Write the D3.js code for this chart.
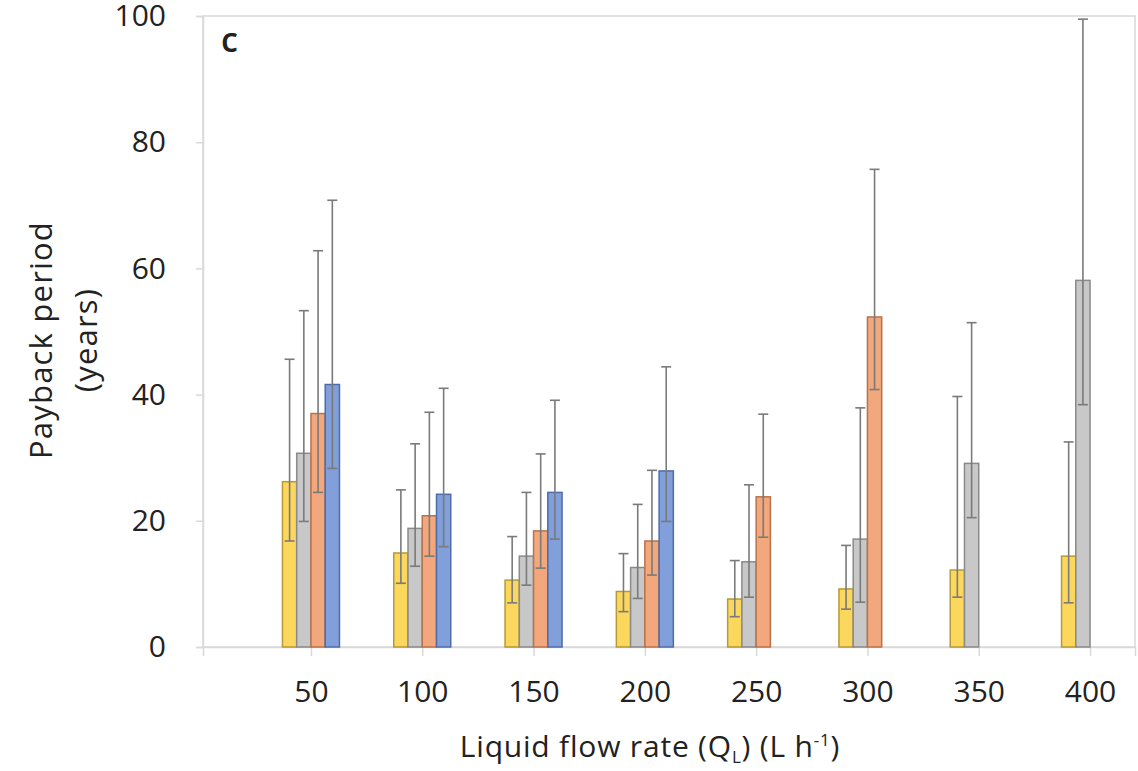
<!DOCTYPE html>
<html>
<head>
<meta charset="utf-8">
<script src="https://cdn.jsdelivr.net/npm/d3@7"></script>
<style>
  html, body { margin: 0; padding: 0; background: #fff; }
  svg { display: block; font-family: "Open Sans", sans-serif; }
</style>
</head>
<body>
<svg id="chart" width="1138" height="771"></svg>
<script>
// flow rate categories (L h-1)
const flowRates = [50, 100, 150, 200, 250, 300, 350, 400];
const yTicks = [0, 20, 40, 60, 80, 100];

// payback period (years): bar value, upper and lower error-bar ends
const yellowMean = [26.2, 14.9, 10.6, 8.8, 7.6, 9.2, 12.2, 14.4];
const yellowHigh = [45.6, 24.9, 17.5, 14.8, 13.7, 16.1, 39.7, 32.5];
const yellowLow  = [16.8, 10.1, 7.0, 5.6, 4.8, 6.0, 7.9, 7.0];

const greyMean = [30.7, 18.8, 14.4, 12.6, 13.5, 17.1, 29.1, 58.1];
const greyHigh = [53.3, 32.2, 24.5, 22.6, 25.7, 37.9, 51.4, 99.5];
const greyLow  = [19.9, 12.8, 9.8, 7.7, 7.9, 7.1, 20.5, 38.4];

const orangeMean = [37.0, 20.8, 18.4, 16.8, 23.8, 52.3, null, null];
const orangeHigh = [62.8, 37.2, 30.6, 28.0, 36.9, 75.7, null, null];
const orangeLow  = [24.5, 14.4, 12.5, 11.4, 17.4, 40.8, null, null];

const blueMean = [41.6, 24.2, 24.5, 27.9, null, null, null, null];
const blueHigh = [70.8, 41.0, 39.1, 44.4, null, null, null, null];
const blueLow  = [28.3, 15.9, 17.1, 19.9, null, null, null, null];

const series = [
  { name: 'yellow', mean: yellowMean, high: yellowHigh, low: yellowLow, fill: '#FBD75E', stroke: '#B59A35' },
  { name: 'grey',   mean: greyMean,   high: greyHigh,   low: greyLow,   fill: '#C8C8C8', stroke: '#8A8A8A' },
  { name: 'orange', mean: orangeMean, high: orangeHigh, low: orangeLow, fill: '#F2A87C', stroke: '#B8724C' },
  { name: 'blue',   mean: blueMean,   high: blueHigh,   low: blueLow,   fill: '#809FDB', stroke: '#4E6CA8' }
];

const margin = { top: 16, right: 3, bottom: 124, left: 203 };
const svg = d3.select('#chart');
const width = +svg.attr('width') - margin.left - margin.right;
const height = +svg.attr('height') - margin.top - margin.bottom;
const g = svg.append('g').attr('transform', `translate(${margin.left},${margin.top})`);

const x = d3.scaleLinear().domain([1.5, 420.2]).range([0, width]);
const x1 = d3.scaleBand().domain(series.map(s => s.name)).range([-28.5, 28.5]);
const y = d3.scaleLinear().domain([0, 100]).range([height, 0]);

const axisColor = '#D9D9D9';

// plot area frame
g.append('rect').attr('width', width).attr('height', height)
  .attr('fill', 'none').attr('stroke', axisColor).attr('stroke-width', 1.5);

// axes
const xAxis = g.append('g').attr('transform', `translate(0,${height})`)
  .call(d3.axisBottom(x).tickValues(flowRates).tickSize(9).tickPadding(25).tickFormat(d3.format('d')));
xAxis.select('.domain').attr('stroke', axisColor).attr('stroke-width', 1.5);
xAxis.selectAll('.tick line').attr('stroke', axisColor).attr('stroke-width', 1.5);
xAxis.selectAll('text').attr('font-size', '30px').attr('fill', '#222').attr('font-family', '"Open Sans", sans-serif');

const yAxis = g.append('g')
  .call(d3.axisLeft(y).tickValues(yTicks).tickSize(7).tickPadding(30));
yAxis.select('.domain').attr('stroke', axisColor).attr('stroke-width', 1.5);
yAxis.selectAll('.tick line').attr('stroke', axisColor).attr('stroke-width', 1.5);
yAxis.selectAll('text').attr('font-size', '30px').attr('fill', '#222').attr('font-family', '"Open Sans", sans-serif');

// bars
series.forEach(s => {
  const pts = flowRates.map((f, i) => ({ f, v: s.mean[i], hi: s.high[i], lo: s.low[i] })).filter(d => d.v != null);
  g.selectAll(`.bar-${s.name}`).data(pts).enter().append('rect')
    .attr('x', d => x(d.f) + x1(s.name))
    .attr('y', d => y(d.v))
    .attr('width', x1.bandwidth())
    .attr('height', d => height - y(d.v))
    .attr('fill', s.fill).attr('stroke', s.stroke).attr('stroke-width', 1.5);
});

// error bars
series.forEach(s => {
  const pts = flowRates.map((f, i) => ({ f, v: s.mean[i], hi: s.high[i], lo: s.low[i] })).filter(d => d.v != null);
  const cx = d => x(d.f) + x1(s.name) + x1.bandwidth() / 2;
  const eb = g.selectAll(`.err-${s.name}`).data(pts).enter().append('g').attr('stroke', '#7A7A7A').attr('stroke-width', 1.6);
  eb.append('line').attr('x1', cx).attr('x2', cx).attr('y1', d => y(d.hi)).attr('y2', d => y(d.lo));
  eb.append('line').attr('x1', d => cx(d) - 5).attr('x2', d => cx(d) + 5).attr('y1', d => y(d.hi)).attr('y2', d => y(d.hi));
  eb.append('line').attr('x1', d => cx(d) - 5).attr('x2', d => cx(d) + 5).attr('y1', d => y(d.lo)).attr('y2', d => y(d.lo));
});

// panel letter
g.append('text').attr('x', 18).attr('y', 36).attr('font-size', '34px').attr('font-weight', 600)
  .attr('fill', '#222').text('c');

// y title
const yt = svg.append('text').attr('transform', `translate(0,340) rotate(-90)`)
  .attr('text-anchor', 'middle').attr('font-size', '31px').attr('letter-spacing', '1.2px').attr('fill', '#222');
yt.append('tspan').attr('x', 0).attr('y', 52).text('Payback period');
yt.append('tspan').attr('x', 0).attr('y', 97).text('(years)');

// x title
const xt = svg.append('text').attr('x', 650).attr('y', 757)
  .attr('text-anchor', 'middle').attr('font-size', '30px').attr('letter-spacing', '0.8px').attr('fill', '#222');
xt.append('tspan').text('Liquid flow rate (Q');
xt.append('tspan').attr('font-size', '17px').attr('dy', 6).text('L');
xt.append('tspan').attr('dy', -6).text(') (L h');
xt.append('tspan').attr('font-size', '17px').attr('dy', -11).text('-1');
xt.append('tspan').attr('dy', 11).text(')');
</script>
</body>
</html>
